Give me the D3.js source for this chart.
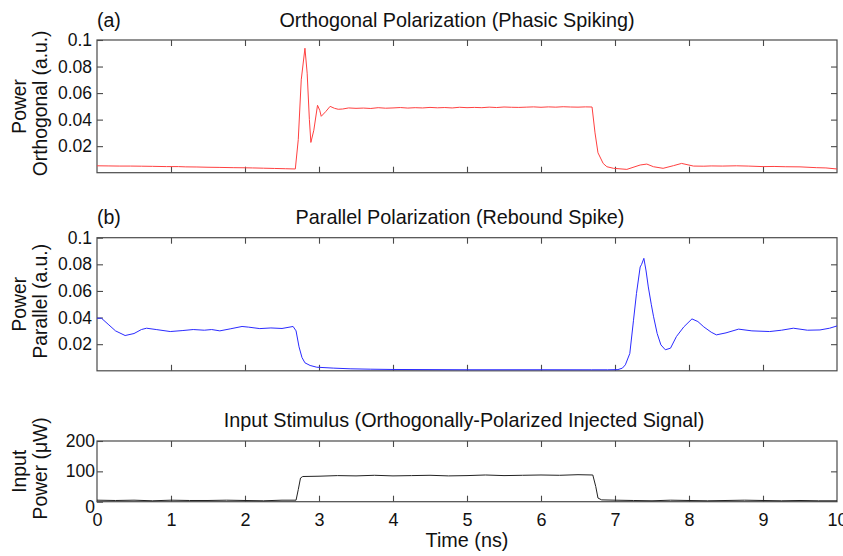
<!DOCTYPE html>
<html><head><meta charset="utf-8">
<script src="https://cdn.jsdelivr.net/npm/d3@7/dist/d3.min.js"></script>
<style>
body{margin:0;background:#fff;}
text{font-family:"Liberation Sans",Arial,Helvetica,sans-serif;fill:#111;}
</style></head>
<body><svg id="chart" width="843" height="556"></svg>
<script>
// ---- data ----
const xTicks = [0,1,2,3,4,5,6,7,8,9,10];
const powerTicks = [0.02,0.04,0.06,0.08,0.1];
const inputTicks = [0,100,200];

const orthTime = [0,0.15,0.3,0.45,0.6,0.75,0.94,1.1,1.2,1.35,1.5,1.65,1.84,2.0,2.1,2.25,2.4,2.55,2.68,2.72,2.76,2.81,2.84,2.87,2.89,2.93,2.98,3.01,3.03,3.09,3.15,3.21,3.26,3.32,3.4,3.5,3.6,3.7,3.8,3.9,4.0,4.1,4.2,4.3,4.4,4.5,4.6,4.7,4.8,4.9,5.0,5.1,5.2,5.3,5.4,5.5,5.6,5.7,5.8,5.9,6.0,6.1,6.2,6.3,6.4,6.5,6.6,6.69,6.73,6.77,6.84,6.89,6.98,7.16,7.34,7.43,7.52,7.65,7.79,7.90,8.06,8.2,8.3,8.45,8.64,8.8,9.0,9.15,9.3,9.5,9.72,9.85,10.0];
const orthPower = [0.0052,0.0051,0.0050,0.0050,0.0049,0.0048,0.0046,0.0046,0.0044,0.0043,0.0041,0.0040,0.0038,0.0037,0.0036,0.0034,0.0032,0.0030,0.0028,0.025,0.070,0.0938,0.075,0.040,0.0228,0.032,0.0508,0.047,0.0425,0.046,0.050,0.0485,0.0478,0.048,0.0488,0.0485,0.0487,0.0484,0.0490,0.0486,0.0488,0.0491,0.0487,0.0490,0.0488,0.0492,0.0489,0.0491,0.0488,0.0493,0.0490,0.0492,0.0490,0.0494,0.0491,0.0495,0.0493,0.0492,0.0494,0.0496,0.0493,0.0496,0.0494,0.0497,0.0495,0.0494,0.0496,0.0495,0.030,0.015,0.007,0.0045,0.0033,0.0025,0.0058,0.0065,0.0045,0.0033,0.0053,0.0070,0.0050,0.0049,0.0051,0.0050,0.0052,0.0050,0.0046,0.0047,0.0045,0.0044,0.0038,0.0036,0.0028];

const parTime = [0,0.06,0.15,0.25,0.38,0.5,0.6,0.67,0.8,0.99,1.15,1.3,1.45,1.55,1.66,1.8,1.96,2.05,2.2,2.35,2.5,2.65,2.69,2.73,2.77,2.81,2.88,2.97,3.2,3.42,3.7,4.0,4.5,5.0,5.5,6.0,6.68,6.9,7.04,7.10,7.14,7.20,7.25,7.29,7.34,7.36,7.39,7.42,7.45,7.49,7.52,7.57,7.62,7.68,7.75,7.83,7.93,8.04,8.12,8.2,8.3,8.37,8.5,8.67,8.85,9.09,9.25,9.41,9.6,9.77,9.9,10.0];
const parPower = [0.0395,0.0395,0.035,0.030,0.0265,0.028,0.031,0.032,0.031,0.0295,0.0302,0.031,0.0305,0.031,0.030,0.0315,0.0333,0.0328,0.0317,0.0322,0.0318,0.0333,0.030,0.018,0.010,0.006,0.004,0.0027,0.002,0.0015,0.0012,0.001,0.0009,0.0008,0.0008,0.0008,0.00075,0.00075,0.0009,0.002,0.0045,0.013,0.038,0.058,0.078,0.080,0.0845,0.075,0.063,0.050,0.041,0.028,0.0195,0.0158,0.017,0.0257,0.033,0.039,0.037,0.033,0.029,0.027,0.0285,0.0313,0.030,0.0295,0.0305,0.032,0.0305,0.0307,0.032,0.0337];

const inputTime = [0,0.25,0.5,0.75,1.0,1.25,1.5,1.75,2.0,2.25,2.5,2.69,2.72,2.75,2.78,3.0,3.25,3.5,3.75,4.0,4.25,4.5,4.75,5.0,5.25,5.5,5.75,6.0,6.25,6.5,6.70,6.74,6.77,6.82,7.0,7.25,7.5,7.75,8.0,8.25,8.5,8.75,9.0,9.25,9.5,9.75,10.0];
const inputPower = [5,4,5,3,5,4,4,5,4,3,5,5,40,78,83,84,86,85,87,85,86,87,85,86,88,86,87,88,87,89,88,50,12,6,5,4,3,5,4,3,4,5,4,3,4,3,3];

// ---- layout ----
const svg = d3.select("#chart");
const left = 97, right = 837;
const x = d3.scaleLinear().domain([0,10]).range([left,right]);
const frame = "#4a4a4a";

const panels = [
  {top:40, bottom:172.7, domain:[0,0.1], ticks:powerTicks, time:orthTime, vals:orthPower, color:"#ff4040",
   title:"Orthogonal Polarization (Phasic Spiking)", titleX:457, tag:"(a)", titleY:27, label:["Power","Orthogonal (a.u.)"], xlabels:false},
  {top:237.7, bottom:370.8, domain:[0,0.1], ticks:powerTicks, time:parTime, vals:parPower, color:"#2a2aff",
   title:"Parallel Polarization (Rebound Spike)", titleX:460, tag:"(b)", titleY:224, label:["Power","Parallel (a.u.)"], xlabels:false},
  {top:441, bottom:501.7, domain:[0,200], ticks:inputTicks, time:inputTime, vals:inputPower, color:"#222",
   title:"Input Stimulus (Orthogonally-Polarized Injected Signal)", titleX:464, tag:null, titleY:427, label:["Input","Power (\u03BCW)"], xlabels:true}
];

panels.forEach((p,pi) => {
  const y = d3.scaleLinear().domain(p.domain).range([p.bottom,p.top]);
  const g = svg.append("g");
  g.append("rect").attr("x",left).attr("y",p.top).attr("width",right-left).attr("height",p.bottom-p.top)
    .attr("fill","none").attr("stroke",frame).attr("stroke-width",1.2);
  const styleAxis = sel => { sel.select(".domain").remove(); sel.selectAll("line").attr("stroke",frame).attr("stroke-width",1.1);
    sel.selectAll("text").attr("font-size",17.5).attr("fill","#111").attr("font-family",'"Liberation Sans",Arial,sans-serif'); };
  const yAx = g.append("g").attr("transform",`translate(${left},0)`)
    .call(d3.axisLeft(y).tickValues(p.ticks).tickSize(-6).tickPadding(pi===2?2:5).tickFormat(d=>String(d))).call(styleAxis);
  if (pi===2) yAx.selectAll("g.tick").filter(d=>d===0).select("text").attr("dy","0.62em");
  g.append("g").attr("transform",`translate(${right},0)`)
    .call(d3.axisRight(y).tickValues(p.ticks.filter(t=>t!==p.domain[0] && t!==p.domain[1])).tickSize(-6).tickFormat("")).call(styleAxis);
  g.append("g").attr("transform",`translate(0,${p.top})`)
    .call(d3.axisTop(x).tickValues(xTicks.slice(1,-1)).tickSize(-6).tickFormat("")).call(styleAxis);
  const xb = g.append("g").attr("transform",`translate(0,${p.bottom})`)
    .call(d3.axisBottom(x).tickValues(p.xlabels ? xTicks : xTicks.slice(1,-1)).tickSize(-6).tickPadding(12)
      .tickFormat(p.xlabels ? (d=>String(d)) : "")).call(styleAxis);
  if (p.xlabels) { xb.selectAll("g.tick").filter(d=>d===0||d===10).select("line").remove();
    xb.selectAll("text").attr("font-size",18); }
  const pts = p.time.map((t,i)=>[t,p.vals[i]]);
  g.append("path").datum(pts).attr("fill","none").attr("stroke",p.color).attr("stroke-width",1)
    .attr("stroke-linejoin","round")
    .attr("d", d3.line().x(d=>x(d[0])).y(d=>y(d[1])));
  g.append("text").attr("x",p.titleX).attr("y",p.titleY).attr("text-anchor","middle")
    .attr("font-size",19.8).text(p.title);
  if (p.tag) g.append("text").attr("x",left).attr("y",p.titleY).attr("font-size",19.5).text(p.tag);
  const cy = (p.top+p.bottom)/2;
  g.append("text").attr("transform",`translate(26,${cy}) rotate(-90)`).attr("text-anchor","middle")
    .attr("font-size",19.3).text(p.label[0]);
  g.append("text").attr("transform",`translate(47,${cy - 3}) rotate(-90)`).attr("text-anchor","middle")
    .attr("font-size",19.3).text(p.label[1]);
});

svg.append("text").attr("x",467).attr("y",547).attr("text-anchor","middle").attr("font-size",19.8).text("Time (ns)");
</script></body></html>
